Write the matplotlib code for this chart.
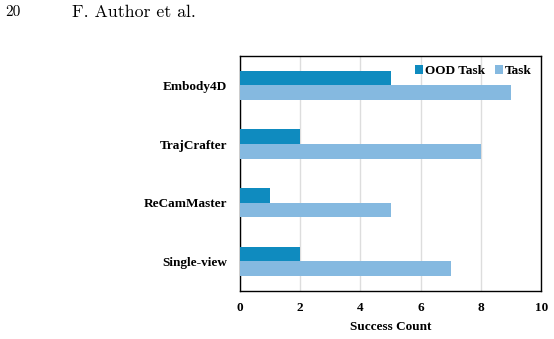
import matplotlib

matplotlib.use("Agg")

import matplotlib.pyplot as plt
import numpy as np

methods = ["Embody4D", "TrajCrafter", "ReCamMaster", "Single-view"]
ood_task = [5, 2, 1, 2]
task = [9, 8, 5, 7]
x_ticks = [0, 2, 4, 6, 8, 10]

OOD_COLOR = "#0f8bbf"
TASK_COLOR = "#85b9e0"

plt.rcParams["font.family"] = ["Liberation Serif", "DejaVu Serif"]
plt.rcParams["axes.unicode_minus"] = False

fig = plt.figure(figsize=(5.54, 3.39), dpi=100)
ax = fig.add_axes([0.433, 0.142, 0.544, 0.693])

y = np.arange(len(methods))
h = 0.25
ax.barh(y - h / 2, ood_task, height=h, color=OOD_COLOR, label="OOD Task", zorder=3)
ax.barh(y + h / 2, task, height=h, color=TASK_COLOR, label="Task", zorder=3)

fs = 9.5
ax.set_ylim(len(methods) - 0.5, -0.5)
ax.set_xlim(0, 10)
ax.set_xticks(x_ticks)
ax.set_xticklabels([str(t) for t in x_ticks], fontweight="bold", fontsize=fs)
ax.set_yticks(y)
ax.set_yticklabels(methods, fontweight="bold", fontsize=fs)
ax.tick_params(length=0, pad=9)
ax.tick_params(axis="x", pad=8)
ax.grid(axis="x", color="#dddddd", lw=1, zorder=0)
for s in ax.spines.values():
    s.set_color("black")
    s.set_linewidth(1.0)
ax.set_xlabel("Success Count", fontweight="bold", fontsize=fs, labelpad=5)

ax.legend(loc="upper right", frameon=False, ncol=2, handlelength=0.6, handleheight=0.6,
          handletextpad=0.2, columnspacing=0.7, borderaxespad=0.3,
          prop={"weight": "bold", "size": fs})

fig.text(5 / 554, 1 - 12 / 339, "20", fontsize=11, family="cmr10", va="center")
fig.text(72 / 554, 1 - 12 / 339, "F. Author et al.", fontsize=12.8, family="cmr10", va="center")

fig.savefig("out.png", dpi=100, facecolor="white")
